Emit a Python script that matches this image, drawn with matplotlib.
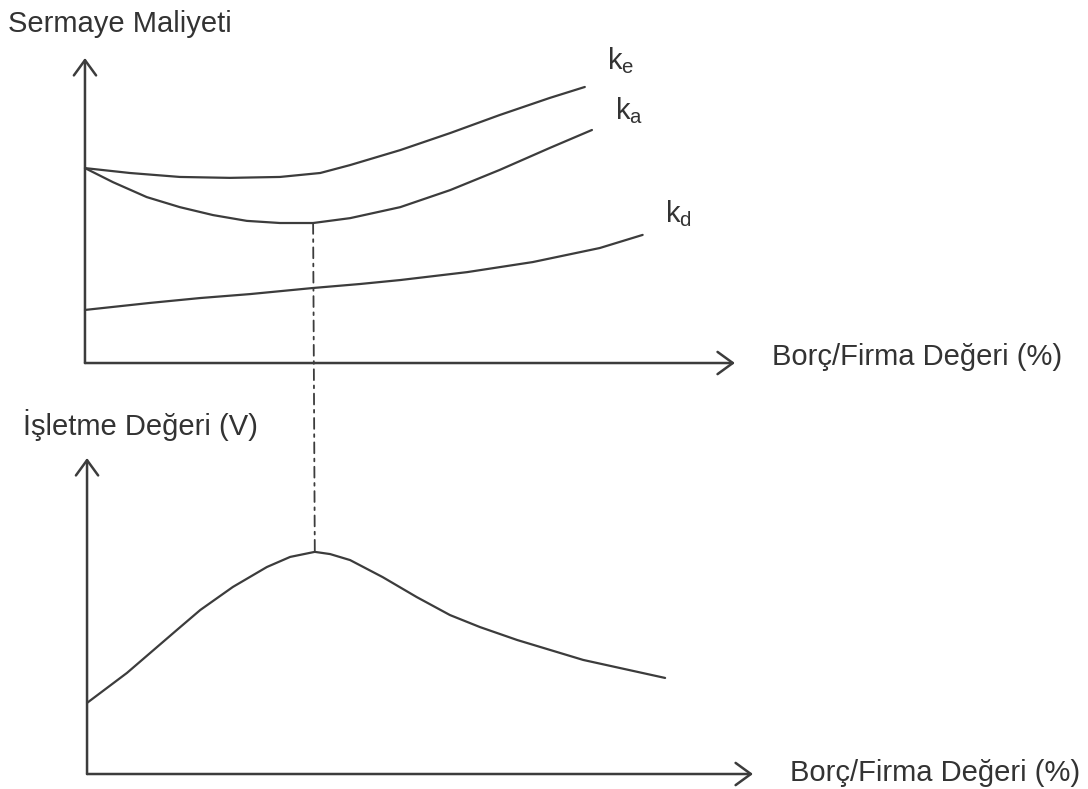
import matplotlib
matplotlib.use("Agg")
import matplotlib.pyplot as plt
from matplotlib.patches import ConnectionPatch

plt.rcParams["font.family"] = ["Liberation Sans", "DejaVu Sans"]

# top panel: cost of capital vs debt ratio (x: 0..100 = axis length, y: 0..100)
KE_X = [0, 6.9, 14.6, 22.3, 30.0, 36.2, 40.8, 48.5, 56.2, 63.8, 71.5, 76.9]
KE_Y = [63.9, 62.3, 61.0, 60.7, 61.0, 62.3, 64.9, 69.8, 75.4, 81.3, 86.9, 90.5]

KA_X = [0, 4.3, 9.5, 14.6, 19.7, 24.9, 30.0, 35.1, 40.8, 48.5, 56.2, 63.8, 71.5, 78.0]
KA_Y = [63.9, 59.3, 54.4, 51.1, 48.5, 46.6, 45.9, 45.9, 47.5, 51.1, 56.7, 63.3, 70.5, 76.4]

KD_X = [0, 10.0, 17.7, 25.4, 35.1, 42.3, 48.5, 58.8, 68.9, 79.2, 85.8]
KD_Y = [17.4, 19.7, 21.3, 22.6, 24.6, 25.9, 27.2, 29.8, 33.1, 37.7, 42.0]

# bottom panel: firm value vs debt ratio
V_X = [0, 6.0, 13.5, 17.0, 21.9, 27.0, 30.5, 34.2, 36.5, 39.5, 44.4, 49.5,
       54.5, 59.0, 64.6, 74.5, 86.8]
V_Y = [22.5, 32.0, 45.6, 51.9, 59.2, 65.5, 68.7, 70.3, 69.6, 67.7, 62.3, 56.0,
       50.3, 46.5, 42.4, 36.1, 30.4]

OPT_TOP = (35.1, 45.9)
OPT_BOTTOM = (34.2, 70.3)

LINE_COLOR = "#3c3c3c"
TEXT_COLOR = "#333333"
FS = 21

fig = plt.figure(figsize=(10.88, 7.89), dpi=100)
ax_top = fig.add_axes([0.0781, 0.5399, 0.5974, 0.3866])
ax_bot = fig.add_axes([0.0800, 0.0190, 0.6121, 0.4005])

for ax in (ax_top, ax_bot):
    ax.set_xlim(0, 100)
    ax.set_ylim(0, 100)
    ax.axis("off")
    arrow = dict(arrowstyle="->,head_length=0.55,head_width=0.4",
                 color=LINE_COLOR, lw=1.8, shrinkA=0, shrinkB=0,
                 mutation_scale=20)
    ax.annotate("", xy=(1, 0), xytext=(0, 0), xycoords="axes fraction",
                arrowprops=arrow, annotation_clip=False)
    ax.annotate("", xy=(0, 1), xytext=(0, 0), xycoords="axes fraction",
                arrowprops=arrow, annotation_clip=False)

curve = dict(color=LINE_COLOR, lw=1.6, clip_on=False,
             solid_joinstyle="round", solid_capstyle="round")
ax_top.plot(KE_X, KE_Y, **curve)
ax_top.plot(KA_X, KA_Y, **curve)
ax_top.plot(KD_X, KD_Y, **curve)
ax_bot.plot(V_X, V_Y, **curve)

con = ConnectionPatch(xyA=OPT_TOP, coordsA=ax_top.transData,
                      xyB=OPT_BOTTOM, coordsB=ax_bot.transData,
                      color=LINE_COLOR, lw=1.3, linestyle=(0, (6, 3, 1.5, 3)))
fig.add_artist(con)

ax_top.text(80.3, 99.3, r"$\mathregular{k_e}$", fontsize=FS, color=TEXT_COLOR,
            ha="left", va="center", clip_on=False)
ax_top.text(81.5, 82.6, r"$\mathregular{k_a}$", fontsize=FS, color=TEXT_COLOR,
            ha="left", va="center", clip_on=False)
ax_top.text(89.2, 48.9, r"$\mathregular{k_d}$", fontsize=FS, color=TEXT_COLOR,
            ha="left", va="center", clip_on=False)

ax_top.text(105.7, 2.0, "Borç/Firma Değeri (%)", fontsize=FS, color=TEXT_COLOR,
            ha="left", va="center", clip_on=False)
ax_bot.text(105.6, 0.3, "Borç/Firma Değeri (%)", fontsize=FS, color=TEXT_COLOR,
            ha="left", va="center", clip_on=False)

fig.text(8 / 1088, 1 - 32 / 789, "Sermaye Maliyeti", fontsize=FS,
         color=TEXT_COLOR, ha="left", va="baseline")
fig.text(23 / 1088, 1 - 435 / 789, "İşletme Değeri (V)", fontsize=FS,
         color=TEXT_COLOR, ha="left", va="baseline")

fig.savefig("out.png", dpi=100, facecolor="white")
